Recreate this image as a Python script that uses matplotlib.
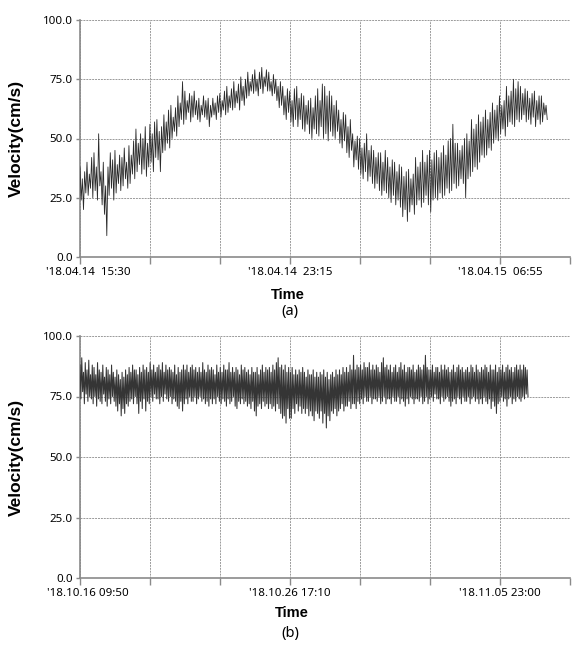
import numpy as np
import matplotlib
matplotlib.use("Agg")
import matplotlib.pyplot as plt
from matplotlib.transforms import ScaledTranslation

plt.rcParams['font.family'] = ['Noto Sans', 'DejaVu Sans']

# ---------------- data ----------------
# Panel (a): velocity samples (cm/s), '18.04.14 15:30 onward
vel_a = [
    38, 24, 33, 20, 36, 27,  40, 26, 35, 29, 42, 25,  44, 28, 38, 24, 52, 30,
    36, 22, 40, 18, 30, 9,   38, 26, 44, 29, 41, 24,  45, 27, 39, 31, 43, 28,
    42, 30, 46, 33, 40, 29,  47, 31, 43, 35, 49, 33,  54, 36, 48, 39, 52, 35,
    50, 37, 55, 34, 48, 38,  56, 40, 52, 36, 57, 42,  58, 41, 53, 36, 55, 44,
    60, 45, 57, 48, 62, 46,  64, 50, 59, 53, 63, 51,  68, 55, 65, 58, 74, 56,
    70, 58, 66, 61, 69, 57,  68, 59, 70, 60, 66, 58,  67, 57, 64, 60, 68, 59,
    66, 58, 67, 55, 64, 59,  67, 60, 65, 58, 68, 61,  69, 59, 66, 62, 70, 60,
    72, 61, 68, 63, 71, 62,  74, 63, 70, 65, 73, 62,  76, 66, 72, 64, 75, 67,
    78, 68, 74, 70, 77, 69,  79, 70, 75, 68, 78, 71,  80, 69, 76, 72, 79, 70,
    78, 70, 74, 68, 77, 69,  75, 66, 72, 63, 74, 64,  72, 60, 68, 58, 71, 61,
    70, 57, 66, 55, 71, 58,  72, 55, 67, 58, 69, 54,  68, 53, 64, 56, 66, 52,
    67, 50, 63, 54, 68, 52,  71, 51, 66, 55, 73, 50,  72, 52, 68, 49, 70, 53,
    68, 51, 64, 50, 66, 53,  62, 48, 58, 46, 61, 49,  60, 44, 55, 42, 58, 45,
    52, 38, 49, 41, 51, 37,  50, 35, 46, 33, 48, 36,  52, 32, 45, 34, 47, 31,
    45, 29, 42, 31, 44, 28,  44, 26, 40, 28, 45, 27,  42, 25, 38, 23, 41, 26,
    40, 22, 36, 24, 39, 21,  38, 17, 34, 20, 36, 15,  37, 19, 33, 22, 35, 18,
    42, 22, 38, 24, 40, 21,  45, 23, 40, 26, 43, 22,  45, 19, 41, 24, 44, 25,
    45, 24, 42, 27, 44, 25,  47, 26, 43, 29, 49, 27,  50, 28, 56, 31, 48, 29,
    48, 30, 45, 33, 47, 31,  50, 25, 52, 33, 49, 34,  58, 36, 54, 38, 56, 37,
    60, 40, 57, 43, 59, 42,  62, 43, 58, 46, 61, 45,  65, 48, 62, 50, 64, 49,
    68, 52, 64, 54, 66, 51,  72, 55, 68, 57, 70, 56,  75, 55, 71, 58, 74, 57,
    72, 58, 69, 60, 71, 57,  70, 58, 67, 56, 69, 59,  70, 55, 66, 58, 68, 56,
    68, 57, 65, 60, 64, 58,
]
# Panel (b): velocity samples (cm/s), '18.10.16 09:50 onward
vel_b = [
    88, 74, 91, 77, 85, 72, 89, 76,  86, 73, 90, 75, 84, 74, 88, 72,
    87, 75, 84, 71, 89, 74, 86, 73,  85, 72, 88, 76, 83, 73, 87, 71,
    86, 74, 84, 72, 88, 75, 85, 73,  83, 71, 86, 69, 84, 72, 82, 67,
    85, 70, 83, 68, 86, 72, 84, 71,  87, 73, 85, 74, 88, 72, 86, 75,
    86, 72, 84, 68, 87, 73, 85, 70,  88, 74, 86, 69, 87, 73, 85, 72,
    89, 75, 86, 73, 88, 76, 85, 74,  87, 74, 88, 72, 86, 75, 89, 73,
    85, 76, 88, 74, 86, 73, 87, 75,  86, 72, 85, 74, 88, 73, 84, 71,
    87, 70, 85, 73, 86, 69, 88, 72,  86, 74, 88, 72, 85, 75, 87, 73,
    88, 73, 86, 75, 87, 72, 85, 74,  87, 75, 85, 73, 89, 74, 86, 72,
    85, 73, 88, 71, 86, 74, 87, 72,  86, 74, 84, 72, 88, 75, 85, 73,
    87, 72, 85, 74, 88, 73, 86, 71,  86, 74, 89, 72, 85, 73, 87, 75,
    85, 71, 87, 70, 86, 73, 84, 72,  88, 74, 86, 72, 87, 73, 85, 71,
    86, 72, 84, 70, 87, 73, 85, 69,  85, 67, 87, 71, 84, 72, 86, 70,
    88, 73, 85, 71, 87, 72, 86, 70,  87, 72, 85, 70, 88, 71, 86, 69,
    89, 72, 91, 70, 87, 68, 88, 66,  86, 67, 88, 64, 85, 70, 87, 66,
    85, 66, 87, 70, 84, 68, 86, 72,  84, 69, 86, 71, 85, 68, 87, 70,
    85, 68, 83, 70, 86, 67, 84, 69,  84, 67, 86, 65, 83, 69, 85, 68,
    83, 66, 85, 69, 84, 64, 86, 68,  83, 62, 85, 67, 82, 65, 84, 69,
    85, 68, 83, 70, 86, 67, 84, 69,  86, 70, 84, 72, 87, 69, 85, 71,
    87, 71, 85, 73, 88, 70, 86, 72,  92, 72, 86, 70, 88, 73, 87, 72,
    88, 74, 86, 72, 89, 75, 87, 73,  87, 73, 89, 75, 86, 72, 88, 74,
    86, 74, 88, 73, 87, 75, 85, 72,  89, 73, 91, 75, 87, 72, 88, 74,
    86, 74, 88, 72, 85, 75, 87, 73,  88, 73, 85, 75, 87, 72, 89, 74,
    86, 73, 88, 71, 85, 74, 87, 72,  87, 75, 86, 74, 88, 72, 85, 74,
    86, 74, 88, 73, 87, 75, 86, 72,  88, 73, 92, 75, 87, 72, 86, 74,
    86, 75, 88, 73, 85, 76, 87, 74,  87, 74, 85, 72, 88, 75, 86, 73,
    88, 74, 86, 75, 87, 73, 85, 71,  86, 73, 88, 74, 85, 72, 87, 75,
    88, 74, 86, 72, 87, 75, 85, 73,  86, 73, 87, 75, 85, 72, 88, 74,
    87, 75, 85, 73, 88, 74, 86, 72,  85, 74, 87, 72, 86, 75, 88, 73,
    87, 72, 85, 74, 88, 70, 86, 73,  86, 71, 88, 68, 85, 72, 87, 73,
    86, 75, 88, 73, 85, 74, 87, 71,  88, 74, 86, 75, 87, 72, 85, 74,
    87, 73, 88, 75, 86, 74, 88, 73,  86, 75, 88, 74, 87, 76, 86, 75,
]

labels_a = ["'18.04.14  15:30", "", "", "'18.04.14  23:15", "", "", "'18.04.15  06:55", ""]
labels_b = ["'18.10.16 09:50", "", "", "'18.10.26 17:10", "", "", "'18.11.05 23:00", ""]
y_ticks = [0, 25, 50, 75, 100]
y_labels = ["0.0", "25.0", "50.0", "75.0", "100.0"]

# sampling interval and gridline spacing (minutes for a, hours for b)
dt_a, tick_step_a = 2.58, 155.0
dt_b, tick_step_b = 1.0295, 82.2

# ---------------- figure ----------------
fig = plt.figure(figsize=(5.84, 6.48), dpi=100)
W, H = 584, 648

def make_ax(top_px, bot_px):
    return fig.add_axes([80 / W, 1 - bot_px / H, 490 / W, (bot_px - top_px) / H])

ax_a = make_ax(20, 257)
ax_b = make_ax(336, 578)

panels = [
    (ax_a, vel_a, dt_a, tick_step_a, labels_a, '#2a2a2a', 0.6),
    (ax_b, vel_b, dt_b, tick_step_b, labels_b, '#353535', 0.75),
]

bold_font = ['Liberation Sans', 'DejaVu Sans']
grid_col = '#9a9a9a'
for ax, vals, dt, step, xlabels, col, lw in panels:
    t = np.arange(len(vals)) * dt
    ax.plot(t, vals, color=col, lw=lw, zorder=3)
    xt = np.arange(8) * step
    ax.set_xlim(0, xt[-1])
    ax.set_ylim(0, 100)
    ax.set_xticks(xt)
    ax.set_xticklabels(xlabels, fontsize=8.3)
    ax.set_yticks(y_ticks)
    ax.set_yticklabels(y_labels, fontsize=8.3)
    ax.grid(True, color=grid_col, lw=0.7, ls=(0, (2, 1)), zorder=1)
    for s in ['top', 'right']:
        ax.spines[s].set_visible(False)
    for s in ['left', 'bottom']:
        ax.spines[s].set_color('#8a8a8a')
        ax.spines[s].set_linewidth(1.2)
    ax.tick_params(axis='x', length=5, width=1.0, color='#8a8a8a', pad=2)
    ax.tick_params(axis='y', length=3, width=1.0, color='#8a8a8a', pad=2)
    ax.set_ylabel('Velocity(cm/s)', fontsize=12.5, fontweight='bold', family=bold_font)
    ax.yaxis.set_label_coords(-0.114, 0.5)
    first = ax.get_xticklabels()[0]
    first.set_transform(first.get_transform() + ScaledTranslation(8 / 100, 0, fig.dpi_scale_trans))

# x labels and captions
fig.text(288 / W, 1 - 295 / H, 'Time', ha='center', va='center', fontsize=10.5,
         fontweight='bold', family=bold_font)
fig.text(290 / W, 1 - 311 / H, '(a)', ha='center', va='center', fontsize=10.5)
fig.text(292 / W, 1 - 613 / H, 'Time', ha='center', va='center', fontsize=10.5,
         fontweight='bold', family=bold_font)
fig.text(290 / W, 1 - 633 / H, '(b)', ha='center', va='center', fontsize=10.5)

fig.savefig('out.png', dpi=100)
